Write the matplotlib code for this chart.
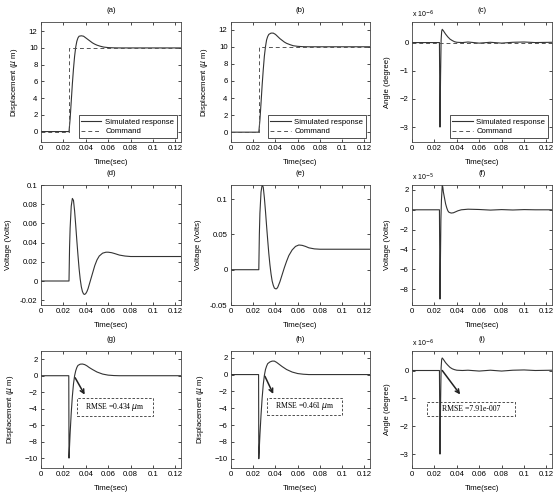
import matplotlib
matplotlib.use("Agg")
import matplotlib.pyplot as plt
from matplotlib.patches import Rectangle

plt.rcParams['font.family'] = ['Liberation Sans', 'DejaVu Sans']

# --- data ---
# (a) displacement response vs command (um)
t_a = [0, 0.025, 0.026, 0.027, 0.028, 0.029, 0.030, 0.031, 0.032, 0.033, 0.034,
       0.036, 0.038, 0.040, 0.042, 0.044, 0.046, 0.048, 0.050, 0.053, 0.056,
       0.060, 0.065, 0.070, 0.080, 0.125]
y_a = [0, 0, 1.5, 3.6, 5.7, 7.5, 9.0, 10.1, 10.8, 11.2, 11.4,
       11.45, 11.4, 11.2, 11.0, 10.8, 10.6, 10.45, 10.33, 10.2, 10.1,
       10.04, 10.01, 10.0, 10.0, 10.0]
# (b)
t_b = [0, 0.025, 0.026, 0.027, 0.028, 0.029, 0.030, 0.031, 0.032, 0.033, 0.034,
       0.036, 0.038, 0.040, 0.042, 0.044, 0.046, 0.048, 0.050, 0.053, 0.056,
       0.060, 0.065, 0.070, 0.080, 0.125]
y_b = [0, 0, 1.4, 3.4, 5.5, 7.3, 8.9, 10.0, 10.8, 11.2, 11.45,
       11.6, 11.6, 11.45, 11.2, 10.95, 10.75, 10.55, 10.4, 10.25, 10.12,
       10.05, 10.01, 10.0, 10.0, 10.0]
# command step
t_cmd = [0, 0.025, 0.025, 0.125]
y_cmd = [0, 0, 10, 10]
# (c) angle (x 1e-6 degree)
t_c = [0, 0.0245, 0.0250, 0.0255, 0.0260, 0.0265, 0.0270, 0.0280, 0.0290, 0.030,
       0.032, 0.034, 0.036, 0.038, 0.040, 0.045, 0.050, 0.060, 0.070, 0.080,
       0.090, 0.100, 0.110, 0.125]
y_c = [0, 0, -3.0, -1.2, 0.1, 0.40, 0.47, 0.42, 0.36, 0.30,
       0.20, 0.12, 0.07, 0.03, 0.01, 0.0, 0.02, -0.02, 0.01, -0.02,
       0.01, 0.02, 0.0, 0.01]
t_cmd0 = [0, 0.125]
y_cmd0 = [0, 0]
# (d) voltage (V)
t_d = [0, 0.025, 0.0255, 0.026, 0.027, 0.028, 0.029, 0.030, 0.031, 0.032, 0.033,
       0.034, 0.035, 0.036, 0.037, 0.038, 0.039, 0.040, 0.041, 0.042, 0.044,
       0.046, 0.048, 0.050, 0.052, 0.055, 0.058, 0.060, 0.063, 0.066, 0.070,
       0.075, 0.080, 0.085, 0.125]
y_d = [0, 0, 0.035, 0.055, 0.078, 0.086, 0.084, 0.073, 0.058, 0.042, 0.027,
       0.013, 0.002, -0.006, -0.011, -0.0135, -0.014, -0.013, -0.011, -0.008, 0.0,
       0.008, 0.016, 0.022, 0.026, 0.029, 0.030, 0.030, 0.0295, 0.0285, 0.027,
       0.026, 0.0255, 0.0255, 0.0255]
# (e) voltage (V)
t_e = [0, 0.025, 0.0255, 0.026, 0.027, 0.028, 0.029, 0.030, 0.031, 0.032, 0.033,
       0.034, 0.035, 0.036, 0.037, 0.038, 0.039, 0.040, 0.041, 0.042, 0.044,
       0.046, 0.048, 0.050, 0.052, 0.055, 0.058, 0.061, 0.064, 0.067, 0.070,
       0.075, 0.080, 0.125]
y_e = [0, 0, 0.05, 0.08, 0.11, 0.12, 0.117, 0.102, 0.083, 0.062, 0.042,
       0.023, 0.007, -0.006, -0.016, -0.022, -0.026, -0.027, -0.027, -0.025, -0.017,
       -0.007, 0.003, 0.012, 0.020, 0.028, 0.033, 0.035, 0.0345, 0.033, 0.031,
       0.0295, 0.029, 0.029]
# (f) voltage (x 1e-5 V)
t_f = [0, 0.0245, 0.0250, 0.0254, 0.0258, 0.0263, 0.0270, 0.0275, 0.028, 0.029,
       0.030, 0.031, 0.032, 0.033, 0.035, 0.037, 0.039, 0.041, 0.044, 0.050,
       0.060, 0.070, 0.080, 0.090, 0.100, 0.110, 0.125]
y_f = [0, 0, -9.0, -5.0, -1.0, 1.0, 2.45, 2.3, 1.8, 1.2,
       0.6, 0.2, -0.1, -0.25, -0.33, -0.3, -0.2, -0.1, 0.0, 0.06,
       0.03, -0.03, 0.02, -0.02, 0.02, 0.0, 0.0]
# (g) displacement error (um)
t_g = [0, 0.0248, 0.025, 0.0255, 0.026, 0.027, 0.028, 0.029, 0.030, 0.031, 0.032,
       0.033, 0.035, 0.037, 0.039, 0.041, 0.043, 0.046, 0.050, 0.055, 0.060,
       0.065, 0.070, 0.125]
y_g = [0, 0, -10.0, -8.5, -7.0, -4.5, -2.5, -1.0, 0.0, 0.6, 1.0,
       1.25, 1.4, 1.42, 1.35, 1.2, 1.0, 0.75, 0.45, 0.2, 0.07,
       0.02, 0.0, 0.0]
# (h)
t_h = [0, 0.0248, 0.025, 0.0255, 0.026, 0.027, 0.028, 0.029, 0.030, 0.031, 0.032,
       0.033, 0.035, 0.037, 0.039, 0.041, 0.043, 0.046, 0.050, 0.055, 0.060,
       0.065, 0.070, 0.125]
y_h = [0, 0, -10.0, -8.6, -7.2, -4.8, -2.8, -1.2, -0.1, 0.6, 1.0,
       1.3, 1.5, 1.6, 1.6, 1.45, 1.25, 0.95, 0.6, 0.3, 0.12,
       0.04, 0.0, 0.0]
# (i) angle error (x 1e-6 degree)
t_i = [0, 0.0245, 0.0250, 0.0255, 0.0260, 0.0265, 0.0270, 0.0280, 0.0290, 0.030,
       0.032, 0.034, 0.036, 0.038, 0.040, 0.045, 0.050, 0.060, 0.070, 0.080,
       0.090, 0.100, 0.110, 0.125]
y_i = [0, 0, -3.0, -1.2, 0.1, 0.40, 0.45, 0.40, 0.34, 0.28,
       0.19, 0.11, 0.06, 0.03, 0.01, 0.0, 0.01, -0.02, 0.01, -0.02,
       0.01, 0.02, 0.0, 0.01]

rmse_g = "RMSE =0.434 $\\mu$m"
rmse_h = "RMSE =0.461 $\\mu$m"
rmse_i = "RMSE =7.91e-007"

# --- layout ---
fig = plt.figure(figsize=(5.57, 4.94), dpi=100)
W, H = 557.0, 494.0
col_x = [41, 231, 412]
col_w = [140, 139, 140]
row_y = [(22, 142), (185, 305), (351, 468)]

FS = 5.6
LC = '#333333'


def make_ax(r, c):
    top, bot = row_y[r]
    ax = fig.add_axes([col_x[c] / W, 1 - bot / H, col_w[c] / W, (bot - top) / H])
    ax.tick_params(direction='in', top=True, right=True, length=2.5, width=0.5,
                   labelsize=FS, pad=2.5)
    for s in ax.spines.values():
        s.set_linewidth(0.6)
        s.set_color('#444444')
    ax.set_xlim(0, 0.125)
    ax.set_xticks([0, 0.02, 0.04, 0.06, 0.08, 0.1, 0.12])
    ax.set_xticklabels(['0', '0.02', '0.04', '0.06', '0.08', '0.1', '0.12'])
    ax.set_xlabel('Time(sec)', fontsize=FS, labelpad=5)
    return ax


def sci_label(ax, e):
    ax.text(0.0, 1.015, 'x 10$^{%d}$' % e, transform=ax.transAxes,
            fontsize=FS - 0.6, ha='left', va='bottom')


def rmse_box(ax, x0, x1, y0, y1, txt, xy, xytext):
    ax.add_patch(Rectangle((x0, y0), x1 - x0, y1 - y0, fill=False,
                           ls=(0, (3, 2)), lw=0.6, ec='#333333'))
    ax.text((x0 + x1) / 2, (y0 + y1) / 2, txt, ha='center', va='center',
            fontsize=FS, family=['Liberation Serif', 'DejaVu Serif'])
    ax.annotate('', xy=xytext, xytext=xy,
                arrowprops=dict(arrowstyle='->', lw=1.1, color='#222222',
                                mutation_scale=7, shrinkA=0, shrinkB=0))


titles = [['(a)', '(b)', '(c)'], ['(d)', '(e)', '(f)'], ['(g)', '(h)', '(i)']]
YL = dict(fontsize=FS, labelpad=6)

# row 1
ax = make_ax(0, 0)
ax.plot(t_a, y_a, color=LC, lw=0.8, label='Simulated response')
ax.plot(t_cmd, y_cmd, color='#555555', lw=0.7, ls=(0, (4, 3)), label='Command')
ax.set_ylim(-1.25, 13.1)
ax.set_yticks(range(0, 13, 2))
ax.set_ylabel('Displacement ($\\mu$ m)', **YL)

ax = make_ax(0, 1)
ax.plot(t_b, y_b, color=LC, lw=0.8, label='Simulated response')
ax.plot(t_cmd, y_cmd, color='#555555', lw=0.7, ls=(0, (4, 3)), label='Command')
ax.set_ylim(-1.15, 12.9)
ax.set_yticks(range(0, 13, 2))
ax.set_ylabel('Displacement ($\\mu$ m)', **YL)

ax = make_ax(0, 2)
ax.plot(t_c, y_c, color=LC, lw=0.8, label='Simulated response')
ax.plot(t_cmd0, y_cmd0, color='#555555', lw=0.7, ls=(0, (4, 3)), label='Command')
ax.set_ylim(-3.53, 0.73)
ax.set_yticks([-3, -2, -1, 0])
ax.set_ylabel('Angle (degree)', **YL)
sci_label(ax, -6)

for c in range(3):
    a = fig.axes[c]
    leg = a.legend(loc='lower right', fontsize=FS, frameon=True, fancybox=False,
                   edgecolor='#333333', framealpha=1, borderaxespad=0.5,
                   handlelength=2.6, handletextpad=0.5, borderpad=0.35,
                   labelspacing=0.3)
    leg.get_frame().set_linewidth(0.6)

# row 2
ax = make_ax(1, 0)
ax.plot(t_d, y_d, color=LC, lw=0.8)
ax.set_ylim(-0.025, 0.1)
ax.set_yticks([-0.02, 0, 0.02, 0.04, 0.06, 0.08, 0.1])
ax.set_yticklabels(['-0.02', '0', '0.02', '0.04', '0.06', '0.08', '0.1'])
ax.set_ylabel('Voltage (Volts)', **YL)

ax = make_ax(1, 1)
ax.plot(t_e, y_e, color=LC, lw=0.8)
ax.set_ylim(-0.05, 0.12)
ax.set_yticks([-0.05, 0, 0.05, 0.1])
ax.set_yticklabels(['-0.05', '0', '0.05', '0.1'])
ax.set_ylabel('Voltage (Volts)', **YL)

ax = make_ax(1, 2)
ax.plot(t_f, y_f, color=LC, lw=0.8)
ax.set_ylim(-9.6, 2.5)
ax.set_yticks([-8, -6, -4, -2, 0, 2])
ax.set_ylabel('Voltage (Volts)', **YL)
sci_label(ax, -5)

# row 3
ax = make_ax(2, 0)
ax.plot(t_g, y_g, color=LC, lw=0.8)
ax.set_ylim(-11.2, 3.0)
ax.set_yticks(range(-10, 3, 2))
ax.set_ylabel('Displacement ($\\mu$ m)', **YL)
rmse_box(ax, 0.032, 0.1, -4.85, -2.65, rmse_g, (0.0305, -0.25), (0.039, -2.3))

ax = make_ax(2, 1)
ax.plot(t_h, y_h, color=LC, lw=0.8)
ax.set_ylim(-11.1, 2.8)
ax.set_yticks(range(-10, 3, 2))
ax.set_ylabel('Displacement ($\\mu$ m)', **YL)
rmse_box(ax, 0.0325, 0.1, -4.8, -2.75, rmse_h, (0.0305, -0.2), (0.038, -2.3))

ax = make_ax(2, 2)
ax.plot(t_i, y_i, color=LC, lw=0.8)
ax.set_ylim(-3.5, 0.7)
ax.set_yticks([-3, -2, -1, 0])
ax.set_ylabel('Angle (degree)', **YL)
sci_label(ax, -6)
rmse_box(ax, 0.0135, 0.092, -1.63, -1.12, rmse_i, (0.027, 0.0), (0.043, -0.86))

for r in range(3):
    for c in range(3):
        fig.axes[r * 3 + c].set_title(titles[r][c], fontsize=FS, pad=7)

fig.savefig('out.png', dpi=100)
